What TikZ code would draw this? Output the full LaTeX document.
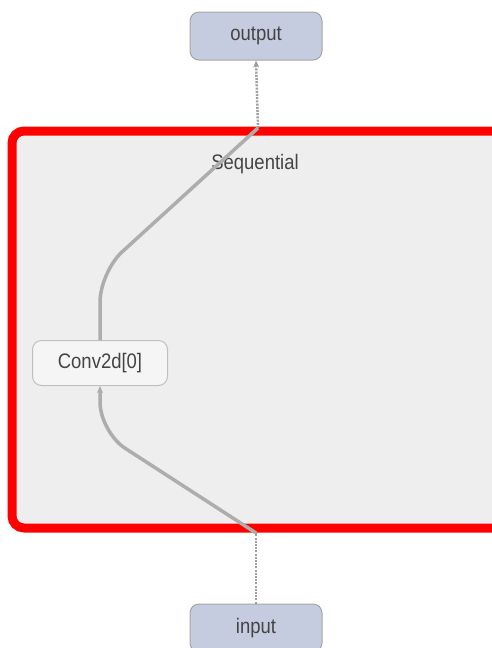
\documentclass[tikz,border=0pt]{standalone}
\usepackage{fontspec}
\setmainfont{Liberation Sans}
\usetikzlibrary{arrows.meta}
\definecolor{boxfill}{HTML}{EEEEEE}
\definecolor{ioblue}{HTML}{C5CCE0}
\definecolor{edgegray}{HTML}{ADADAD}
\definecolor{txtgray}{HTML}{444444}
\newcommand{\narrowtxt}[1]{\scalebox{0.88}[1]{#1}}
\begin{document}
\begin{tikzpicture}[x=1pt,y=1pt,
  iobox/.style={draw=gray!70, line width=1pt, fill=ioblue, rounded corners=9pt,
    minimum width=132pt, minimum height=48pt, text=txtgray, font=\fontsize{21}{23}\selectfont},
  opbox/.style={draw=gray!50, line width=1pt, fill=white!96!black, rounded corners=9pt,
    minimum width=135pt, minimum height=45pt, text=txtgray, font=\fontsize{21}{23}\selectfont},
  edgein/.style={draw=edgegray, line width=3.5pt, rounded corners=30pt},
  edgeout/.style={draw=gray!75, line width=2.5pt, dash pattern=on 2pt off 1.2pt},
  tip/.style={-{Stealth[length=7pt,width=6pt]}}]
\useasboundingbox (0,0) rectangle (491,-648);
% container
\draw[draw=red, line width=9pt, fill=boxfill, rounded corners=12pt] (12,-131) rectangle (520,-528);
\node[text=txtgray, font=\fontsize{21}{23}\selectfont] (seq) at (255,-164) {\narrowtxt{Sequential}};
% nodes
\node[iobox] (out) at (256,-36) {\narrowtxt{output}};
\node[iobox] (in) at (256,-628) {\narrowtxt{input}};
\node[opbox] (conv) at (100,-363) {\narrowtxt{Conv2d[0]}};
% edges
\coordinate (inEntry) at (256,-533);
\coordinate (outExit) at (258,-128);
\draw[edgeout] (in.north) -- (inEntry);
\draw[edgein, tip] (inEntry) -- (100,-432) -- (conv.south);
\draw[edgein] (conv.north) -- (100,-272) -- (outExit);
\draw[edgeout, tip] (outExit) -- (out.south);
\end{tikzpicture}
\end{document}
